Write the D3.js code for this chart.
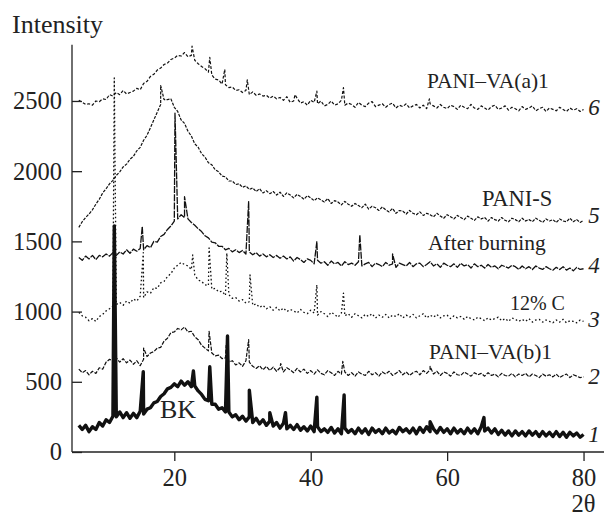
<!DOCTYPE html>
<html>
<head>
<meta charset="utf-8">
<script src="https://cdn.jsdelivr.net/npm/d3@7/dist/d3.min.js"></script>
<style>
  html, body { margin: 0; padding: 0; background: #fff; }
  svg { display: block; }
  text { font-family: "Liberation Serif", "Times New Roman", serif; fill: #222; }
</style>
</head>
<body>
<svg id="chart" width="610" height="517"></svg>
<script>
// 2θ sampling of the diffraction scans (degrees)
const twoTheta = [
  6, 6.5, 7, 7.5, 8, 8.5, 9, 9.5, 10, 10.5,
  11, 11.5, 12, 12.5, 13, 13.5, 14, 14.5, 15, 15.5,
  16, 16.5, 17, 17.5, 18, 18.5, 19, 19.5, 20, 20.5,
  21, 21.5, 22, 22.5, 23, 23.5, 24, 24.5, 25, 25.5,
  26, 26.5, 27, 27.5, 28, 28.5, 29, 29.5, 30, 30.5,
  31, 31.5, 32, 32.5, 33, 33.5, 34, 34.5, 35, 35.5,
  36, 36.5, 37, 37.5, 38, 38.5, 39, 39.5, 40, 40.5,
  41, 41.5, 42, 42.5, 43, 43.5, 44, 44.5, 45, 45.5,
  46, 46.5, 47, 47.5, 48, 48.5, 49, 49.5, 50, 50.5,
  51, 51.5, 52, 52.5, 53, 53.5, 54, 54.5, 55, 55.5,
  56, 56.5, 57, 57.5, 58, 58.5, 59, 59.5, 60, 60.5,
  61, 61.5, 62, 62.5, 63, 63.5, 64, 64.5, 65, 65.5,
  66, 66.5, 67, 67.5, 68, 68.5, 69, 69.5, 70, 70.5,
  71, 71.5, 72, 72.5, 73, 73.5, 74, 74.5, 75, 75.5,
  76, 76.5, 77, 77.5, 78, 78.5, 79, 79.5, 80
];

// Curve 1 – BK
const bk = [
  190, 160, 190, 145, 180, 160, 210, 185, 230, 210,
  255, 250, 285, 245, 280, 240, 275, 245, 290, 270,
  305, 315, 350, 360, 395, 415, 450, 460, 485, 465,
  505, 475, 500, 465, 470, 435, 410, 375, 365, 340,
  340, 305, 315, 285, 285, 250, 265, 230, 255, 220,
  250, 210, 240, 200, 230, 190, 220, 185, 210, 170,
  205, 165, 190, 160, 195, 155, 180, 150, 185, 145,
  180, 145, 165, 140, 175, 135, 165, 130, 170, 140,
  160, 130, 170, 135, 165, 125, 170, 140, 160, 130,
  170, 135, 155, 130, 175, 145, 165, 135, 170, 130,
  175, 140, 180, 145, 165, 135, 175, 140, 165, 130,
  170, 135, 160, 130, 170, 135, 165, 130, 180, 150,
  170, 135, 165, 125, 155, 120, 150, 115, 150, 120,
  145, 115, 150, 120, 145, 110, 145, 115, 140, 110,
  145, 110, 140, 105, 140, 115, 135, 105, 125
];
const bkPeaks = [
  [11.2, 1610], [15.45, 572], [22.8, 577], [25.2, 607], [27.8, 826], [31.0, 440],
  [34.0, 280], [36.3, 280], [40.9, 390], [44.9, 406], [57.5, 215], [65.4, 245]
];

// Curve 2 – PANI–VA(b)1
const vaB = [
  590, 565, 580, 550, 575, 560, 600, 590, 640, 660,
  650, 670, 640, 665, 635, 655, 625, 650, 615, 660,
  680, 705, 715, 740, 745, 790, 810, 850, 855, 880,
  870, 890, 855, 860, 820, 800, 760, 740, 720, 705,
  685, 690, 665, 670, 640, 650, 620, 635, 610, 650,
  640, 610, 595, 615, 585, 610, 580, 605, 575, 600,
  570, 600, 585, 565, 595, 570, 590, 560, 580, 555,
  585, 560, 550, 580, 565, 545, 575, 555, 570, 545,
  565, 540, 570, 555, 545, 575, 550, 565, 540, 570,
  555, 575, 545, 560, 580, 550, 570, 545, 565, 575,
  550, 580, 560, 585, 555, 575, 545, 570, 560, 540,
  570, 550, 545, 570, 555, 540, 565, 550, 560, 540,
  565, 545, 555, 535, 560, 545, 540, 560, 535, 555,
  545, 560, 535, 555, 545, 530, 555, 540, 550, 535,
  555, 530, 545, 555, 530, 550, 540, 530, 535
];
const vaBPeaks = [
  [11.2, 1050], [15.5, 740], [25.1, 860], [27.6, 760], [30.9, 800],
  [35.6, 630], [44.7, 645], [57.5, 610]
];

// Curve 3 – 12% C
const c12 = [
  995, 970, 960, 935, 950, 930, 965, 980, 1005, 1020,
  1040, 1050, 1065, 1045, 1075, 1060, 1090, 1075, 1110, 1100,
  1140, 1130, 1170, 1165, 1205, 1215, 1250, 1270, 1310, 1330,
  1350, 1335, 1325, 1300, 1260, 1225, 1215, 1190, 1185, 1160,
  1165, 1140, 1145, 1115, 1120, 1095, 1100, 1075, 1085, 1060,
  1070, 1045, 1055, 1030, 1045, 1020, 1035, 1010, 1030, 1005,
  1025, 1000, 1015, 1005, 990, 1015, 995, 985, 1010, 990,
  975, 1000, 985, 965, 995, 980, 960, 990, 970, 985,
  960, 985, 970, 955, 980, 965, 985, 955, 975, 960,
  980, 955, 975, 965, 985, 955, 975, 960, 980, 955,
  970, 985, 955, 975, 960, 980, 955, 970, 975, 950,
  970, 955, 965, 945, 965, 950, 940, 960, 950, 935,
  955, 940, 950, 960, 935, 950, 930, 955, 945, 930,
  945, 930, 950, 925, 940, 945, 925, 940, 930, 920,
  940, 925, 945, 920, 935, 930, 920, 940, 930
];
const c12Peaks = [
  [11.2, 2664], [15.45, 1420], [22.7, 1403], [25.1, 1453], [27.7, 1417],
  [31.1, 1261], [40.9, 1190], [44.8, 1132]
];

// Curve 4 – after burning
const burnt = [
  1385, 1365, 1395, 1375, 1400, 1370, 1400, 1390, 1410, 1395,
  1420, 1400, 1425, 1410, 1440, 1415, 1445, 1430, 1450, 1440,
  1470, 1455, 1500, 1495, 1535, 1550, 1585, 1610, 1645, 1660,
  1690, 1670, 1660, 1635, 1615, 1590, 1570, 1540, 1525, 1495,
  1490, 1465, 1465, 1440, 1450, 1425, 1440, 1420, 1435, 1410,
  1425, 1405, 1420, 1395, 1410, 1390, 1405, 1385, 1400, 1380,
  1395, 1375, 1390, 1360, 1385, 1370, 1350, 1375, 1365, 1340,
  1365, 1345, 1355, 1330, 1360, 1340, 1350, 1325, 1355, 1335,
  1345, 1330, 1355, 1325, 1340, 1350, 1320, 1345, 1335, 1320,
  1350, 1330, 1340, 1315, 1345, 1335, 1325, 1350, 1320, 1340,
  1345, 1320, 1335, 1355, 1325, 1340, 1315, 1345, 1330, 1320,
  1340, 1315, 1345, 1325, 1335, 1310, 1340, 1320, 1330, 1310,
  1335, 1315, 1325, 1305, 1330, 1320, 1310, 1330, 1320, 1300,
  1325, 1305, 1320, 1300, 1325, 1310, 1300, 1320, 1305, 1295,
  1315, 1300, 1320, 1295, 1310, 1290, 1315, 1300, 1305
];
const burntPeaks = [
  [15.3, 1605], [20.1, 2414], [21.5, 1818], [30.9, 1783], [40.9, 1498],
  [47.2, 1546], [52.0, 1410]
];

// Curve 5 – PANI-S
const paniS = [
  1600, 1640, 1670, 1695, 1725, 1765, 1800, 1845, 1875, 1910,
  1935, 1970, 1995, 2030, 2050, 2085, 2105, 2145, 2170, 2220,
  2255, 2310, 2365, 2420, 2475, 2510, 2510, 2515, 2455, 2425,
  2365, 2340, 2285, 2250, 2195, 2170, 2125, 2100, 2060, 2045,
  2010, 1995, 1965, 1960, 1930, 1930, 1905, 1910, 1885, 1895,
  1870, 1880, 1855, 1875, 1845, 1860, 1840, 1855, 1830, 1850,
  1820, 1845, 1830, 1810, 1835, 1820, 1800, 1825, 1810, 1790,
  1810, 1795, 1780, 1805, 1770, 1790, 1780, 1760, 1785, 1765,
  1750, 1770, 1755, 1740, 1765, 1730, 1750, 1740, 1720, 1745,
  1725, 1710, 1735, 1700, 1720, 1715, 1695, 1720, 1700, 1690,
  1710, 1685, 1700, 1690, 1675, 1700, 1680, 1665, 1690, 1675,
  1660, 1685, 1670, 1655, 1680, 1665, 1650, 1675, 1660, 1670,
  1645, 1670, 1655, 1645, 1670, 1650, 1640, 1665, 1655, 1640,
  1665, 1645, 1655, 1640, 1665, 1650, 1635, 1660, 1645, 1655,
  1635, 1660, 1645, 1640, 1665, 1640, 1655, 1635, 1650
];
const paniSPeaks = [[18.0, 2610]];

// Curve 6 – PANI–VA(a)1
const vaA = [
  2505, 2490, 2475, 2480, 2470, 2500, 2495, 2515, 2510, 2545,
  2535, 2560, 2545, 2575, 2550, 2560, 2570, 2590, 2580, 2625,
  2640, 2675, 2690, 2720, 2735, 2760, 2770, 2795, 2805, 2825,
  2820, 2845, 2815, 2825, 2790, 2765, 2745, 2730, 2705, 2685,
  2655, 2650, 2620, 2615, 2595, 2600, 2575, 2580, 2560, 2575,
  2545, 2565, 2540, 2550, 2535, 2540, 2520, 2535, 2515, 2525,
  2505, 2530, 2490, 2500, 2520, 2485, 2495, 2470, 2505, 2490,
  2480, 2500, 2465, 2475, 2500, 2470, 2480, 2505, 2470, 2485,
  2475, 2455, 2490, 2470, 2460, 2485, 2495, 2460, 2470, 2480,
  2455, 2475, 2485, 2450, 2470, 2460, 2480, 2450, 2465, 2475,
  2450, 2470, 2445, 2480, 2465, 2450, 2475, 2455, 2445, 2470,
  2460, 2440, 2470, 2455, 2445, 2475, 2450, 2440, 2465, 2450,
  2435, 2460, 2470, 2440, 2450, 2465, 2435, 2455, 2445, 2430,
  2460, 2440, 2450, 2465, 2430, 2445, 2455, 2425, 2450, 2440,
  2430, 2455, 2440, 2425, 2450, 2435, 2445, 2425, 2440
];
const vaAPeaks = [
  [22.6, 2890], [25.2, 2810], [27.4, 2725], [30.7, 2650], [37.7, 2545],
  [40.9, 2570], [44.8, 2595], [57.4, 2515]
];

// Axis ticks and annotation text
const xTicks = [20, 40, 60, 80];
const yTicks = [0, 500, 1000, 1500, 2000, 2500];
const seriesNames = ["BK", "PANI–VA(b)1", "12% C", "After burning", "PANI-S", "PANI–VA(a)1"];
const curveNumbers = ["1", "2", "3", "4", "5", "6"];

// ---------------------------------------------------------------
const svg = d3.select("#chart");

const x = d3.scaleLinear().domain([5, 83]).range([72, 604]);
const y = d3.scaleLinear().domain([0, 2900]).range([452, 44.8]);

const line = d3.line()
  .x(d => x(d[0]))
  .y(d => y(d[1]));

// merge the sampled scan with its sharp reflections, in 2θ order
function scan(values, peaks) {
  const pts = twoTheta.map((t, i) => [t, values[i]]);
  peaks.forEach(p => pts.push(p));
  return pts.sort((a, b) => a[0] - b[0]);
}

const curves = [
  { values: bk,     peaks: bkPeaks,     width: 3.4, dash: null },
  { values: vaB,    peaks: vaBPeaks,    width: 1.2, dash: "4,1.4" },
  { values: c12,    peaks: c12Peaks,    width: 1.3, dash: "1.6,2.4" },
  { values: burnt,  peaks: burntPeaks,  width: 1.3, dash: "7,1.2" },
  { values: paniS,  peaks: paniSPeaks,  width: 1.2, dash: "3,1.3" },
  { values: vaA,    peaks: vaAPeaks,    width: 1.2, dash: "3,1.8" }
];

const plot = svg.append("g");
curves.slice().reverse().forEach(c => {
  plot.append("path")
    .datum(scan(c.values, c.peaks))
    .attr("d", line)
    .attr("fill", "none")
    .attr("stroke", "#111")
    .attr("stroke-width", c.width)
    .attr("stroke-linejoin", "round")
    .attr("stroke-dasharray", c.dash);
});

// axes
const xAxis = d3.axisBottom(x).tickValues(xTicks).tickSize(9).tickPadding(8)
  .tickFormat(d3.format("d"));
const gx = svg.append("g").attr("transform", `translate(0,${y(0)})`).call(xAxis);
gx.select(".domain").attr("d", `M${x(5)},0H${x(83)}`);

const yAxis = d3.axisLeft(y).tickValues(yTicks).tickSize(-10).tickPadding(10)
  .tickFormat(d3.format("d"));
const gy = svg.append("g").attr("transform", `translate(${x(5)},0)`).call(yAxis);
gy.select(".domain").attr("d", `M0,${y(0)}V${y(2900)}`);

[gx, gy].forEach(g => {
  g.selectAll("path, line").attr("stroke", "#222").attr("stroke-width", 1.3);
  g.selectAll("text").style("font-family", '"Liberation Serif", serif')
    .style("font-size", "24.5px").attr("fill", "#222");
});

// axis titles
svg.append("text").attr("x", 12).attr("y", 33)
  .style("font-size", "26px").text("Intensity");
svg.append("text").attr("x", x(80)).attr("y", 512).attr("text-anchor", "middle")
  .style("font-size", "24.5px").text("2θ");

// series labels
const labelPos = [
  { t: 17.9, v: 242, size: 26 },
  { t: 57.35, v: 662, size: 21.5 },
  { t: 69.2, v: 1011, size: 20 },
  { t: 57.2, v: 1438, size: 21.5 },
  { t: 65.1, v: 1751, size: 22.5 },
  { t: 57.05, v: 2591, size: 21.5 }
];
seriesNames.forEach((name, i) => {
  svg.append("text")
    .attr("x", x(labelPos[i].t)).attr("y", y(labelPos[i].v))
    .style("font-size", labelPos[i].size + "px")
    .text(name);
});

// curve numbers at the right end
const numberLevel = [70, 485, 890, 1275, 1630, 2400];
curveNumbers.forEach((n, i) => {
  svg.append("text")
    .attr("x", x(80.7)).attr("y", y(numberLevel[i]))
    .style("font-size", "23px").style("font-style", "italic")
    .text(n);
});
</script>
</body>
</html>
